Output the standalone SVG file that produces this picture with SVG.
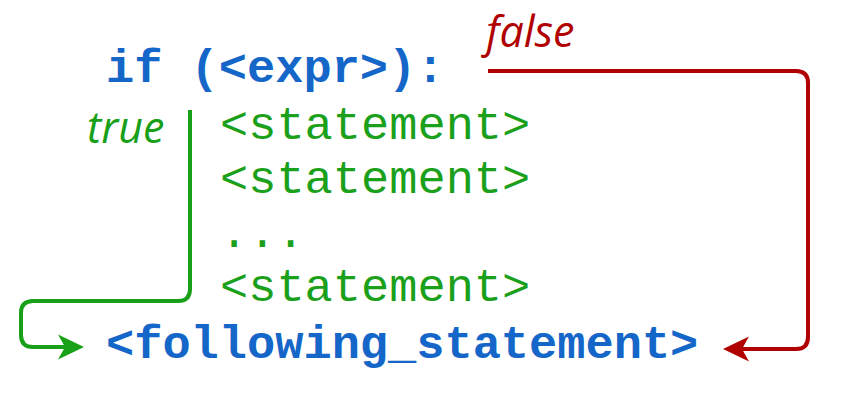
<svg xmlns="http://www.w3.org/2000/svg" width="842" height="409" viewBox="0 0 842 409">
  <style>
    .code { font-family: "Liberation Mono", "Courier New", monospace; font-size: 47px; }
    .kw { fill: #1466c8; font-weight: bold; }
    .st { fill: #1aa01a; }
    .lbl { font-family: "Open Sans", "Liberation Sans", sans-serif; font-style: italic; font-size: 43px; }
    .conn { fill: none; stroke-width: 4; stroke-linejoin: round; }
  </style>
  <defs>
    <marker id="arrowGreen" viewBox="-20 -15 35 30" markerWidth="35" markerHeight="30" refX="0" refY="0" orient="auto" markerUnits="userSpaceOnUse" overflow="visible">
      <path d="M10,0 L-16,-12.5 L-9,0 L-16,12.5 Z" fill="#18a018"/>
    </marker>
    <marker id="arrowRed" viewBox="-20 -15 35 30" markerWidth="35" markerHeight="30" refX="0" refY="0" orient="auto" markerUnits="userSpaceOnUse" overflow="visible">
      <path d="M10,0 L-16,-12.5 L-9,0 L-16,12.5 Z" fill="#b00000"/>
    </marker>
  </defs>
  <rect width="842" height="409" fill="#ffffff"/>

  <g id="connectors">
    <path class="conn" stroke="#18a018" d="M190,110 V289 Q190,301 178,301 H33 Q21,301 21,313 V335 Q21,347 33,347 H74" marker-end="url(#arrowGreen)"/>
    <path class="conn" stroke="#b00000" d="M488,71 H796 Q808,71 808,83 V337 Q808,349 796,349 H733" marker-end="url(#arrowRed)"/>
  </g>

  <g id="if-node">
    <text class="code kw" x="106" y="82">if (&lt;expr&gt;):</text>
  </g>
  <g id="statement-1">
    <text class="code st" x="220" y="139">&lt;statement&gt;</text>
  </g>
  <g id="statement-2">
    <text class="code st" x="220" y="193">&lt;statement&gt;</text>
  </g>
  <g id="ellipsis">
    <text class="code st" x="220" y="247">...</text>
  </g>
  <g id="statement-3">
    <text class="code st" x="220" y="301">&lt;statement&gt;</text>
  </g>
  <g id="following-node">
    <text class="code kw" x="106" y="358">&lt;following_statement&gt;</text>
  </g>
  <g id="labels">
    <text class="lbl" x="87" y="143" fill="#18a018">true</text>
    <text class="lbl" x="486" y="47" fill="#b00000">false</text>
  </g>
</svg>
